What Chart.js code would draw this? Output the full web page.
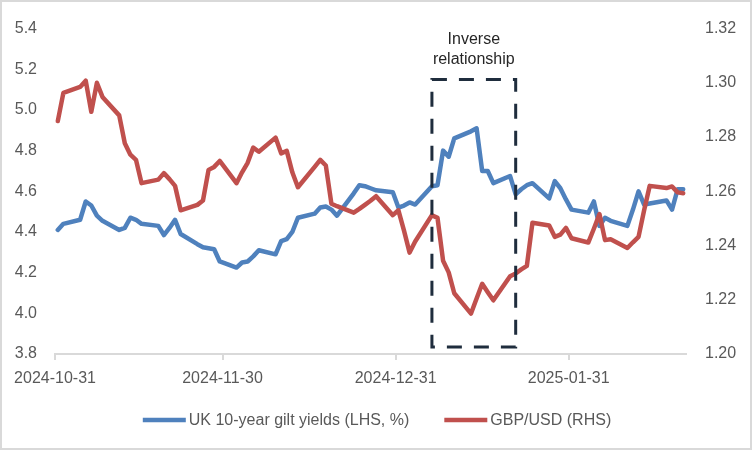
<!DOCTYPE html>
<html><head><meta charset="utf-8">
<script src="https://cdn.jsdelivr.net/npm/chart.js@4.4.1/dist/chart.umd.min.js"></script>
<style>html,body{margin:0;padding:0;background:#fff;}#wrap{width:752px;height:452px;position:relative;}</style>
</head><body><div id="wrap"><canvas id="c" width="752" height="452"></canvas></div>
<script>
const dates = [
 '2024-10-31','2024-11-01','2024-11-04','2024-11-05','2024-11-06','2024-11-07','2024-11-08',
 '2024-11-11','2024-11-12','2024-11-13','2024-11-14','2024-11-15',
 '2024-11-18','2024-11-19','2024-11-20','2024-11-21','2024-11-22',
 '2024-11-25','2024-11-26','2024-11-27','2024-11-28','2024-11-29',
 '2024-12-02','2024-12-03','2024-12-04','2024-12-05','2024-12-06',
 '2024-12-09','2024-12-10','2024-12-11','2024-12-12','2024-12-13',
 '2024-12-16','2024-12-17','2024-12-18','2024-12-19','2024-12-20',
 '2024-12-23','2024-12-24','2024-12-25','2024-12-26','2024-12-27',
 '2024-12-30','2024-12-31','2025-01-01','2025-01-02','2025-01-03',
 '2025-01-06','2025-01-07','2025-01-08','2025-01-09','2025-01-10',
 '2025-01-13','2025-01-14','2025-01-15','2025-01-16','2025-01-17',
 '2025-01-20','2025-01-21','2025-01-22','2025-01-23','2025-01-24',
 '2025-01-27','2025-01-28','2025-01-29','2025-01-30','2025-01-31',
 '2025-02-03','2025-02-04','2025-02-05','2025-02-06','2025-02-07',
 '2025-02-10','2025-02-11','2025-02-12','2025-02-13','2025-02-14',
 '2025-02-17','2025-02-18','2025-02-19','2025-02-20'
];
const giltYields = [
 4.41,4.44,4.46,4.55,4.53,4.48,4.455,
 4.41,4.42,4.47,4.46,4.44,
 4.43,4.385,4.42,4.46,4.39,
 4.34,4.325,4.32,4.315,4.255,
 4.225,4.25,4.255,4.28,4.31,
 4.29,4.355,4.365,4.40,4.47,
 4.49,4.52,4.525,4.51,4.48,
 4.59,4.63,4.625,4.615,4.605,
 4.595,4.52,4.53,4.545,4.535,
 4.625,4.63,4.80,4.77,4.86,
 4.895,4.91,4.70,4.70,4.64,
 4.675,4.585,4.61,4.63,4.64,
 4.565,4.65,4.615,4.56,4.51,
 4.495,4.55,4.43,4.47,4.455,
 4.43,4.51,4.60,4.535,4.54,
 4.555,4.51,4.61,4.61
];
const gbpUsd = [
 1.2859,1.2963,1.2985,1.3008,1.2893,1.3000,1.2948,
 1.2880,1.2777,1.2735,1.2716,1.2630,
 1.2643,1.2667,1.2645,1.2620,1.2530,
 1.2550,1.2566,1.2679,1.2690,1.2712,
 1.2630,1.2670,1.2705,1.2761,1.2746,
 1.2798,1.2740,1.2749,1.2670,1.2615,
 1.2690,1.2716,1.2695,1.2554,1.2545,
 1.2521,1.2535,1.2550,1.2565,1.2582,
 1.2512,1.2530,1.2455,1.2374,1.2415,
 1.2512,1.2502,1.2344,1.2301,1.2224,
 1.2149,1.2205,1.2259,1.2228,1.2198,
 1.2287,1.2297,1.2312,1.2325,1.2484,
 1.2474,1.2432,1.2440,1.2465,1.2427,
 1.2411,1.2462,1.2516,1.2420,1.2423,
 1.2391,1.2412,1.2432,1.2530,1.2620,
 1.2612,1.2618,1.2596,1.2593
];
const tickLabels = ['2024-10-31','2024-11-30','2024-12-31','2025-01-31'];
const seriesNames = ['UK 10-year gilt yields (LHS, %)','GBP/USD (RHS)'];
const axisStart = '2024-10-31';
const axisEnd = '2025-02-20';
const annotationLines = ['Inverse','relationship'];
const boxFrom = '2025-01-06', boxTo = '2025-01-21';
const boxTop = 5.15, boxBottom = 3.835;

const FONT = "'Liberation Sans', Arial, sans-serif";
const BLUE = '#4f81bd', RED = '#c0504d', GRAY = '#595959', AXIS = '#d9d9d9';
const DAY = 86400000;
function dayOffset(s){ return (Date.parse(s+'T00:00:00Z') - Date.parse(axisStart+'T00:00:00Z'))/DAY; }

const bgBorder = {
  id:'bgBorder',
  beforeDraw(chart){ const c=chart.ctx; c.save(); c.fillStyle='#fff'; c.fillRect(0,0,chart.width,chart.height); c.restore(); },
  afterDraw(chart){ const c=chart.ctx; c.save(); c.strokeStyle=AXIS; c.lineWidth=2; c.strokeRect(1,1,chart.width-2,chart.height-4); c.restore(); }
};
const boxPlugin = {
  id:'boxPlugin',
  afterDatasetsDraw(chart){
    const c=chart.ctx, xs=chart.scales.x, ys=chart.scales.y;
    const x1=xs.getPixelForValue(dayOffset(boxFrom)), x2=xs.getPixelForValue(dayOffset(boxTo));
    const y1=ys.getPixelForValue(boxTop), y2=ys.getPixelForValue(boxBottom);
    c.save();
    c.strokeStyle='#1f2d3d'; c.lineWidth=3; c.setLineDash([15,12]);
    c.strokeRect(x1,y1,x2-x1,y2-y1);
    c.setLineDash([]);
    c.fillStyle='#262626'; c.font='16px '+FONT; c.textAlign='center'; c.textBaseline='middle';
    const cx=(x1+x2)/2;
    c.fillText(annotationLines[0], cx, y1-40);
    c.fillText(annotationLines[1], cx, y1-20);
    c.restore();
  }
};
const legendPlugin = {
  id:'customLegend',
  afterDraw(chart){
    const c=chart.ctx; c.save();
    c.font='16px '+FONT; c.textBaseline='middle'; c.textAlign='left';
    const ds=chart.data.datasets, lineW=43, gapTxt=3, gapItem=35, y=420;
    const widths=ds.map(d=>lineW+gapTxt+c.measureText(d.label).width);
    const total=widths.reduce((a,b)=>a+b,0)+gapItem*(ds.length-1);
    let x=chart.width/2-total/2+1;
    ds.forEach((d,i)=>{
      c.fillStyle=d.borderColor; c.fillRect(x,y-2.25,lineW,4.5);
      c.fillStyle=GRAY; c.fillText(d.label,x+lineW+gapTxt,y+0.5);
      x+=widths[i]+gapItem;
    });
    c.restore();
  }
};

const tickValues = tickLabels.map(s=>dayOffset(s)-0.5);

new Chart(document.getElementById('c'), {
  type:'line',
  data:{ datasets:[
    { label:seriesNames[0], data:dates.map((d,i)=>({x:dayOffset(d), y:giltYields[i]})), yAxisID:'y',
      borderColor:BLUE, backgroundColor:BLUE, borderWidth:4.5, pointRadius:0, tension:0,
      borderJoinStyle:'round', borderCapStyle:'round', order:2 },
    { label:seriesNames[1], data:dates.map((d,i)=>({x:dayOffset(d), y:gbpUsd[i]})), yAxisID:'y1',
      borderColor:RED, backgroundColor:RED, borderWidth:4.5, pointRadius:0, tension:0,
      borderJoinStyle:'round', borderCapStyle:'round', order:1 }
  ]},
  options:{
    responsive:false, animation:false, devicePixelRatio:1,
    layout:{ padding:{ top:26, left:0, right:0, bottom:0 } },
    plugins:{ legend:{display:false}, tooltip:{enabled:false} },
    scales:{
      x:{ type:'linear', min:-0.5, max:dayOffset(axisEnd)+0.5,
        afterBuildTicks(s){ s.ticks = tickValues.map(v=>({value:v})); },
        afterFit(s){ s.height = 98; },
        ticks:{ autoSkip:false, maxRotation:0, padding:9, color:GRAY, font:{family:FONT,size:16},
          callback(v){ const i=tickValues.indexOf(v); return i>=0?tickLabels[i]:''; } },
        grid:{ drawOnChartArea:false, drawTicks:true, tickLength:6, color:AXIS, lineWidth:2 },
        border:{ display:true, color:AXIS, width:2 }
      },
      y:{ position:'left', min:3.8, max:5.4,
        afterBuildTicks(s){ const t=[]; for(let k=0;k<=8;k++) t.push({value:+(3.8+0.2*k).toFixed(1)}); s.ticks=t; },
        afterFit(s){ s.width = 55; },
        ticks:{ padding:18, color:GRAY, font:{family:FONT,size:16}, callback:v=>Number(v).toFixed(1) },
        grid:{ display:false, drawTicks:false }, border:{ display:false }
      },
      y1:{ position:'right', min:1.20, max:1.32,
        afterBuildTicks(s){ const t=[]; for(let k=0;k<=6;k++) t.push({value:+(1.20+0.02*k).toFixed(2)}); s.ticks=t; },
        afterFit(s){ s.width = 66; },
        ticks:{ padding:19, color:GRAY, font:{family:FONT,size:16}, callback:v=>Number(v).toFixed(2) },
        grid:{ display:false, drawTicks:false }, border:{ display:false }
      }
    }
  },
  plugins:[bgBorder, boxPlugin, legendPlugin]
});
</script></body></html>
